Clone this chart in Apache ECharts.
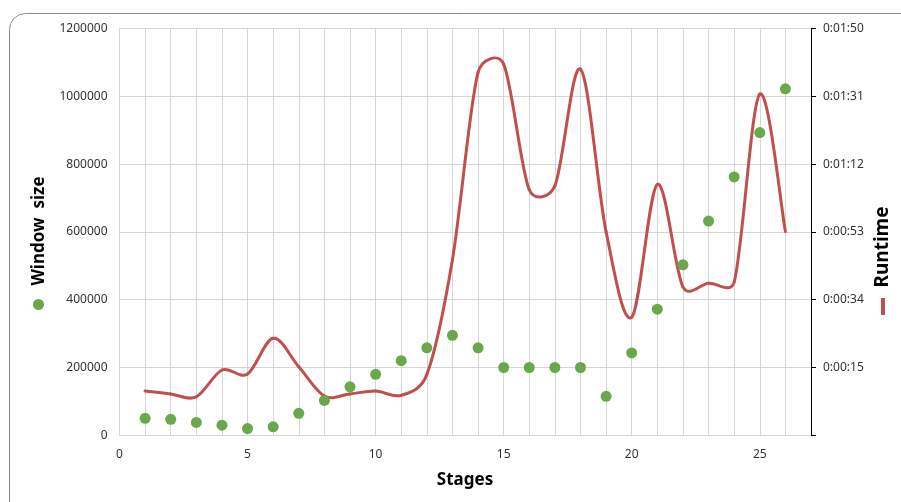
<!DOCTYPE html>
<html><head><meta charset="utf-8">
<script src="https://cdn.jsdelivr.net/npm/echarts@6/dist/echarts.min.js"></script>
<style>html,body{margin:0;padding:0;background:#fff}#c{width:901px;height:502px}</style>
</head><body><div id="c"></div>
<script>
const stages = [1,2,3,4,5,6,7,8,9,10,11,12,13,14,15,16,17,18,19,20,21,22,23,24,25,26];
const windowSize = [50000,47000,38000,30000,20000,25000,65000,103000,143000,180000,220000,258000,295000,258000,200000,200000,200000,200000,115000,243000,372000,503000,632000,762000,893000,1022000];
// runtime in seconds
const runtime = [8.4,7.6,6.8,14.3,13.2,23.2,15.2,7.0,7.6,8.4,7.2,13.0,45.2,97.7,100.0,64.8,65.9,98.6,53.0,29.1,66.3,37.6,38.6,38.9,91.6,53.1];
const xLabels = [0,5,10,15,20,25];

const FONT = 'Noto Sans';
const RED = '#c0504d';
function pad(n){return (n<10?'0':'')+n;}
function fmtTime(s){ if(s<0) return ''; s=Math.round(s); return Math.floor(s/3600)+':'+pad(Math.floor(s/60)%60)+':'+pad(s%60); }

const runData = stages.map((s,i)=>[s,runtime[i]]);

function dist(a,b){return Math.hypot(b[0]-a[0],b[1]-a[1]);}
// spreadsheet-style smoothed line: tension 1/6 with arms capped at half the segment; positions via api.coord
function renderRuntime(params, api){
  const i = params.dataIndex;
  const n = runData.length;
  if(i >= n-1) return null;
  const P = k => api.coord(runData[Math.max(0,Math.min(n-1,k))]);
  const p0 = P(i-1), p1 = P(i), p2 = P(i+1), p3 = P(i+2);
  const d02 = dist(p0,p2), d12 = dist(p1,p2), d13 = dist(p1,p3);
  const f1 = d02/6 < d12/2 ? 1/6 : (d02>0 ? d12/2/d02 : 0);
  const f2 = d13/6 < d12/2 ? 1/6 : (d13>0 ? d12/2/d13 : 0);
  return {
    type:'bezierCurve',
    shape:{x1:p1[0],y1:p1[1],x2:p2[0],y2:p2[1],
      cpx1:p1[0]+(p2[0]-p0[0])*f1, cpy1:p1[1]+(p2[1]-p0[1])*f1,
      cpx2:p2[0]-(p3[0]-p1[0])*f2, cpy2:p2[1]-(p3[1]-p1[1])*f2},
    style:{fill:null,stroke:RED,lineWidth:3,lineCap:'round'}
  };
}

const chart = echarts.init(document.getElementById('c'), null, {renderer:'canvas'});
chart.setOption({
  animation:false,
  textStyle:{fontFamily:FONT},
  grid:{left:119.5,right:90,top:28.5,bottom:66.7},
  legend:[
    {data:['Window size'],left:33,top:299,padding:0,itemWidth:11,itemHeight:11,icon:'circle',formatter:()=>'',textStyle:{fontSize:1}},
    {data:['Runtime'],left:881,top:298,padding:0,itemWidth:4,itemHeight:17,icon:'rect',formatter:()=>'',textStyle:{fontSize:1}}
  ],
  xAxis:{type:'value',min:0,max:27,interval:1,
    axisLine:{show:false},axisTick:{show:false},
    axisLabel:{fontFamily:FONT,fontSize:12,color:'#333',margin:13,formatter:v=>xLabels.indexOf(v)>=0?String(v):''},
    splitLine:{show:true,lineStyle:{color:'#d6d6d6',width:1}}},
  yAxis:[
    {type:'value',min:0,max:1200000,interval:200000,position:'left',
      axisLine:{show:false},axisTick:{show:false},
      axisLabel:{fontFamily:FONT,fontSize:12,color:'#333',margin:12,formatter:v=>String(v)},
      splitLine:{show:true,lineStyle:{color:'#d6d6d6',width:1}}},
    {type:'value',min:-4,max:110,interval:19,position:'right',
      axisLine:{show:true,lineStyle:{color:'#000',width:1}},
      axisTick:{show:true,inside:false,length:5,lineStyle:{color:'#000'}},
      axisLabel:{fontFamily:FONT,fontSize:12,color:'#333',margin:12,formatter:fmtTime},
      splitLine:{show:false}}
  ],
  graphic:[
    {type:'rect',shape:{x:9.5,y:13.5,width:920,height:520,r:16},style:{fill:'none',stroke:'#8a8a8a',lineWidth:1},silent:true,z:-1},
    {type:'text',x:39,y:231,rotation:Math.PI/2,style:{text:'Window  size',font:'bold 17px "Noto Sans"',fill:'#000',textAlign:'center',textVerticalAlign:'middle'}},
    {type:'text',x:883,y:247,rotation:Math.PI/2,style:{text:'Runtime',font:'bold 19px "Noto Sans"',fill:'#000',textAlign:'center',textVerticalAlign:'middle'}},
    {type:'text',x:465,y:480,style:{text:'Stages',font:'bold 17px "Noto Sans"',fill:'#000',textAlign:'center',textVerticalAlign:'middle'}}
  ],
  series:[
    {name:'Window size',type:'scatter',yAxisIndex:0,symbol:'circle',symbolSize:11,
      itemStyle:{color:'#6aa84c',opacity:1},data:stages.map((s,i)=>[s,windowSize[i]]),z:3},
    {name:'Runtime',type:'custom',yAxisIndex:1,coordinateSystem:'cartesian2d',
      renderItem:renderRuntime,itemStyle:{color:RED},
      encode:{x:0,y:1},data:runData,z:2}
  ]
});
</script></body></html>
